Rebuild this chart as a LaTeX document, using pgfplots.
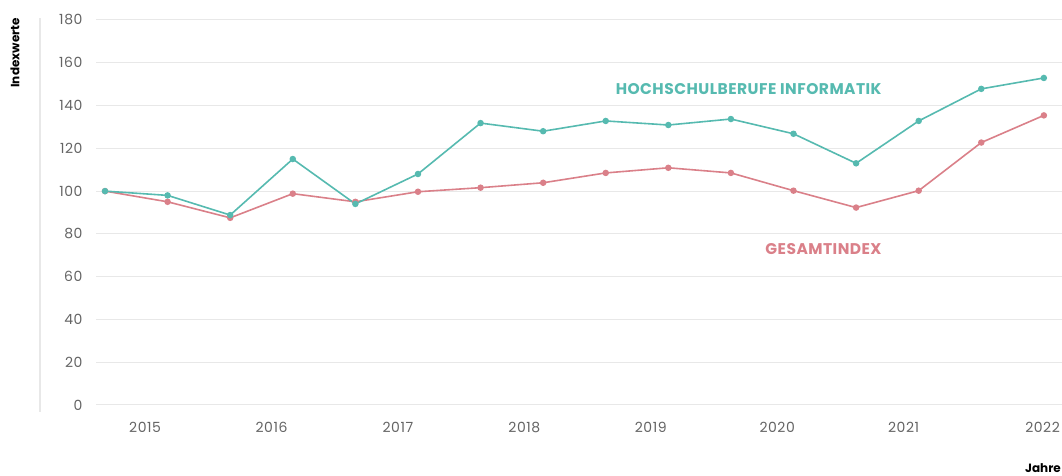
\documentclass[border=0pt]{standalone}
\usepackage{fontspec}
\setmainfont{Poppins}
\usepackage{pgfplots}
\pgfplotsset{compat=1.18}
\definecolor{teal1}{RGB}{86,186,176}
\definecolor{red1}{RGB}{218,128,137}
\definecolor{gridc}{RGB}{232,232,232}
\definecolor{tickc}{RGB}{100,100,100}
\begin{document}
\begin{tikzpicture}[x=1pt,y=1pt]
\path (0,0) rectangle (1062,476);
\draw[gridc, line width=1.2pt] (40,476-18) -- (40,476-412);
\begin{axis}[
  at={(96pt,71pt)}, anchor=south west,
  scale only axis, width=966pt, height=385pt,
  xmin=-0.144, xmax=15.29, ymin=0, ymax=180,
  axis line style={draw=none},
  ytick={0,20,...,180},
  xtick={0.64,2.66,4.68,6.70,8.72,10.74,12.76,14.98},
  xticklabels={2015,2016,2017,2018,2019,2020,2021,2022},
  ymajorgrids, grid style={gridc, line width=1pt},
  major tick length=0pt,
  tick style={draw=none},
  yticklabel style={font=\fontsize{14}{14}\selectfont\addfontfeatures{LetterSpace=4}\color{tickc}, anchor=east, xshift=-10pt},
  xticklabel style={font=\fontsize{14}{14}\selectfont\addfontfeatures{LetterSpace=4}\color{tickc}, anchor=center, yshift=-22pt},
  /pgf/number format/assume math mode=true,
  clip=false,
]
\addplot[red1, line width=1.6pt, mark=*, mark size=2.4pt] coordinates {
(0,100) (1,95) (2,87.5) (3,98.8) (4,95) (5,99.7) (6,101.6) (7,103.9) (8,108.5) (9,110.9) (10,108.5) (11,100.2) (12,92.3) (13,100.2) (14,122.7) (15,135.4)};
\addplot[teal1, line width=1.6pt, mark=*, mark size=2.4pt] coordinates {
(0,100) (1,98) (2,88.8) (3,115) (4,94) (5,108) (6,131.8) (7,128) (8,132.8) (9,130.9) (10,133.7) (11,126.8) (12,113) (13,132.8) (14,147.8) (15,152.9)};
\node[anchor=east, text=teal1, font=\fontsize{15.5}{15}\selectfont\bfseries\addfontfeatures{LetterSpace=3}, inner sep=0pt] at (axis cs:12.41,147.6) {HOCHSCHULBERUFE INFORMATIK};
\node[anchor=east, text=red1, font=\fontsize{15.5}{15}\selectfont\bfseries\addfontfeatures{LetterSpace=3}, inner sep=0pt] at (axis cs:12.41,72.9) {GESAMTINDEX};
\end{axis}
\node[rotate=90, anchor=east, font=\fontsize{12}{12}\selectfont\bfseries, inner sep=0pt] at (15,476-18) {Indexwerte};
\node[anchor=east, font=\fontsize{12}{12}\selectfont\bfseries, inner sep=0pt] at (1061,476-468) {Jahre};
\pgfresetboundingbox
\useasboundingbox (0,0) rectangle (1062,476);
\end{tikzpicture}
\end{document}
